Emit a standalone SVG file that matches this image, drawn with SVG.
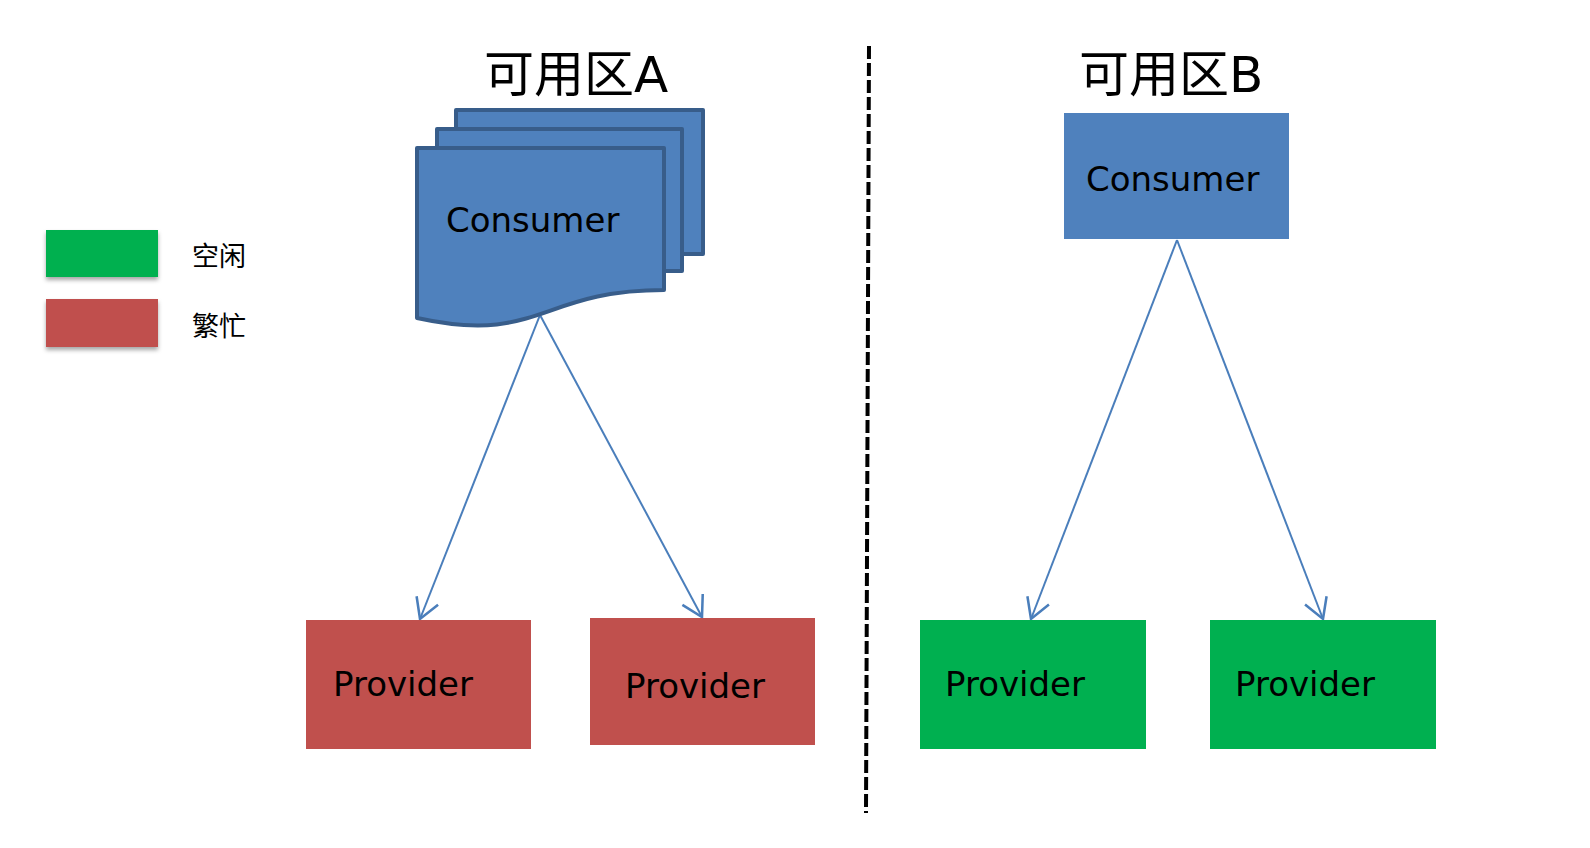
<svg xmlns="http://www.w3.org/2000/svg" width="1590" height="848" viewBox="0 0 1590 848">
<style>
.lbl{font-family:"DejaVu Sans","Noto Sans CJK SC",sans-serif;fill:#000;}
.node{font-size:34px;}
.title{font-size:50px;}
.legend{font-family:"Noto Sans CJK SC",sans-serif;font-size:27px;fill:#000;}
.conn{stroke:#4A7EBB;stroke-width:2;fill:none;}
.doc{fill:#4F81BD;stroke:#385D8A;stroke-width:4;stroke-linejoin:round;}
</style>
<defs>
<marker id="arr" markerUnits="userSpaceOnUse" markerWidth="30" markerHeight="30" viewBox="-22 -13 24 26" refX="0" refY="0" orient="auto">
<path d="M-17.3,-10 L0,0 L-17.3,10" fill="none" stroke="#4A7EBB" stroke-width="2.2"/>
</marker>
<filter id="sh" x="-10%" y="-20%" width="120%" height="160%">
<feDropShadow dx="0" dy="3" stdDeviation="2" flood-color="#000" flood-opacity="0.35"/>
</filter>
</defs>
<rect width="1590" height="848" fill="#fff"/>

<g id="legend">
<rect x="46" y="230" width="112" height="47" fill="#00B050" filter="url(#sh)"/>
<rect x="46" y="299" width="112" height="48" fill="#C0504D" filter="url(#sh)"/>
<text class="legend" x="192" y="266">空闲</text>
<text class="legend" x="192" y="336">繁忙</text>
</g>

<g id="divider">
<line x1="869" y1="46" x2="866" y2="813" stroke="#000" stroke-width="4" stroke-dasharray="13 4"/>
</g>

<g id="titleA"><text class="lbl title" x="484" y="92">可用区A</text></g>
<g id="titleB"><text class="lbl title" x="1079" y="92">可用区B</text></g>

<g id="connectors">
<line class="conn" x1="540" y1="315" x2="420" y2="619" marker-end="url(#arr)"/>
<line class="conn" x1="540" y1="315" x2="702" y2="617" marker-end="url(#arr)"/>
<line class="conn" x1="1177" y1="240" x2="1031" y2="619" marker-end="url(#arr)"/>
<line class="conn" x1="1177" y1="240" x2="1323" y2="619" marker-end="url(#arr)"/>
</g>

<g id="consumerA">
<rect class="doc" x="456" y="110" width="247" height="144"/>
<rect class="doc" x="437" y="129" width="245" height="142"/>
<path class="doc" d="M417,148 H664 V290 C540,290 540,345 417,318 Z"/>
<text class="lbl node" x="446" y="232">Consumer</text>
</g>

<g id="consumerB">
<rect x="1064" y="113" width="225" height="126" fill="#4F81BD"/>
<text class="lbl node" x="1086" y="191">Consumer</text>
</g>

<g id="providerA1">
<rect x="306" y="620" width="225" height="129" fill="#C0504D"/>
<text class="lbl node" x="333" y="696">Provider</text>
</g>
<g id="providerA2">
<rect x="590" y="618" width="225" height="127" fill="#C0504D"/>
<text class="lbl node" x="625" y="698">Provider</text>
</g>
<g id="providerB1">
<rect x="920" y="620" width="226" height="129" fill="#00B050"/>
<text class="lbl node" x="945" y="696">Provider</text>
</g>
<g id="providerB2">
<rect x="1210" y="620" width="226" height="129" fill="#00B050"/>
<text class="lbl node" x="1235" y="696">Provider</text>
</g>
</svg>
